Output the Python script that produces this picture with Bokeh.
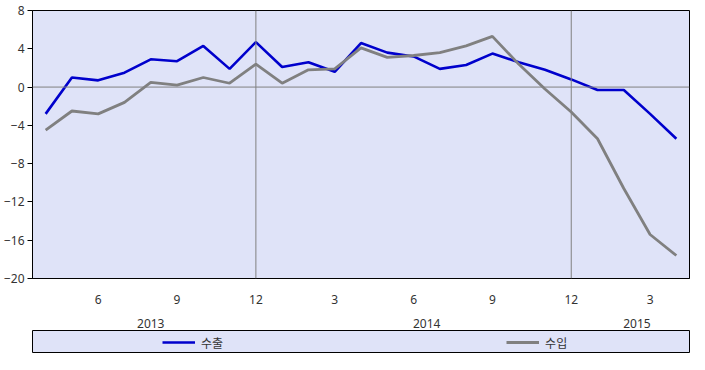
from bokeh.plotting import figure
from bokeh.models import (Range1d, FixedTicker, LinearAxis, Span, Legend, LegendItem, ColumnDataSource)
from bokeh.layouts import column
from bokeh.embed import file_html
from bokeh.resources import INLINE

# Months: 2013-04 .. 2015-04 (index 0..24)
months = ["2013-04", "2013-05", "2013-06", "2013-07", "2013-08", "2013-09", "2013-10", "2013-11", "2013-12",
          "2014-01", "2014-02", "2014-03", "2014-04", "2014-05", "2014-06", "2014-07", "2014-08", "2014-09",
          "2014-10", "2014-11", "2014-12", "2015-01", "2015-02", "2015-03", "2015-04"]
exports = [-2.8, 1.0, 0.7, 1.5, 2.9, 2.7, 4.3, 1.9, 4.7, 2.1, 2.6, 1.6, 4.6, 3.6, 3.2, 1.9, 2.3, 3.5,
           2.6, 1.8, 0.8, -0.3, -0.3, -2.8, -5.4]
imports = [-4.5, -2.5, -2.8, -1.6, 0.5, 0.2, 1.0, 0.4, 2.4, 0.4, 1.8, 1.9, 4.1, 3.1, 3.3, 3.6, 4.3, 5.3,
           2.4, -0.2, -2.6, -5.4, -10.6, -15.4, -17.6]
series_names = ["수출", "수입"]
y_ticks = [-20, -16, -12, -8, -4, 0, 4, 8]
month_tick_labels = {"2013-06": "6", "2013-09": "9", "2013-12": "12", "2014-03": "3",
                     "2014-06": "6", "2014-09": "9", "2014-12": "12", "2015-03": "3"}
year_labels = ["2013", "2014", "2015"]

idx = list(range(len(months)))
src = ColumnDataSource(dict(x=idx, exp=exports, imp=imports))

BG = "#DFE3F8"
FONT = "Noto Sans"
TXT = "#333333"
C_EXP = "#0000CC"
C_IMP = "#808080"

p = figure(width=692, height=330, output_backend="svg", toolbar_location=None,
           x_range=Range1d(-0.5, len(months) - 0.5), y_range=Range1d(-20, 8),
           x_axis_location=None, min_border_left=30, min_border_right=3,
           min_border_top=10, min_border_bottom=48)
p.background_fill_color = BG
p.border_fill_color = "white"
p.outline_line_color = "black"
p.outline_line_width = 1
p.xgrid.visible = False
p.ygrid.visible = False

p.yaxis.ticker = FixedTicker(ticks=y_ticks)
p.yaxis.minor_tick_line_color = None
p.yaxis.major_tick_out = 5
p.yaxis.major_tick_in = 0
p.yaxis.major_label_standoff = 3
p.yaxis.major_label_text_font = FONT
p.yaxis.major_label_text_font_size = "12px"
p.yaxis.major_label_text_color = TXT
p.yaxis.axis_line_color = "black"

# month axis
mt = [months.index(m) for m in month_tick_labels]
ax1 = LinearAxis(ticker=FixedTicker(ticks=mt),
                 major_label_overrides={months.index(m): l for m, l in month_tick_labels.items()})
ax1.major_tick_line_color = None
ax1.minor_tick_line_color = None
ax1.axis_line_color = "black"
ax1.major_label_standoff = 10
ax1.major_label_text_font = FONT
ax1.major_label_text_font_size = "12px"
ax1.major_label_text_color = TXT
p.add_layout(ax1, "below")

# year axis
year_pos = []
for y in year_labels:
    ii = [i for i, m in enumerate(months) if m.startswith(y)]
    year_pos.append((ii[0] + ii[-1]) / 2)
ax2 = LinearAxis(ticker=FixedTicker(ticks=year_pos),
                 major_label_overrides={pos: y for pos, y in zip(year_pos, year_labels)})
ax2.major_tick_line_color = None
ax2.minor_tick_line_color = None
ax2.axis_line_color = None
ax2.major_label_standoff = 6
ax2.major_label_text_font = FONT
ax2.major_label_text_font_size = "12px"
ax2.major_label_text_color = TXT
p.add_layout(ax2, "below")

# reference lines
p.add_layout(Span(location=0, dimension="width", line_color="#808080", line_width=1))
for m in ["2013-12", "2014-12"]:
    p.add_layout(Span(location=months.index(m), dimension="height", line_color="#808080", line_width=1))

r_exp = p.line("x", "exp", source=src, line_color=C_EXP, line_width=2.6)
r_imp = p.line("x", "imp", source=src, line_color=C_IMP, line_width=2.8)

# legend strip
lg = figure(width=692, height=24, output_backend="svg", toolbar_location=None,
            x_range=Range1d(0, 1), y_range=Range1d(0, 1),
            x_axis_location=None, y_axis_location=None,
            min_border_left=28, min_border_right=3, min_border_top=0, min_border_bottom=2)
lg.background_fill_color = BG
lg.outline_line_color = "black"
lg.xgrid.visible = False
lg.ygrid.visible = False
# off-range stand-in renderers carrying the line styles for the legend
l1 = lg.line(x=[-5, -4], y=[-5, -5], line_color=C_EXP, line_width=2.6)
l2 = lg.line(x=[-5, -4], y=[-5, -5], line_color=C_IMP, line_width=2.8)
leg = Legend(items=[LegendItem(label=series_names[0], renderers=[l1]),
                    LegendItem(label=series_names[1], renderers=[l2])],
             orientation="horizontal", location=(130, 1), padding=0, margin=0,
             spacing=283, glyph_width=33, glyph_height=18, label_standoff=6,
             label_text_font="Noto Sans CJK KR", label_text_font_size="12px",
             label_text_color=TXT, background_fill_alpha=0, border_line_alpha=0)
lg.add_layout(leg, "center")

layout = column(p, lg, spacing=0)
open("out.html", "w").write(file_html(layout, INLINE))
